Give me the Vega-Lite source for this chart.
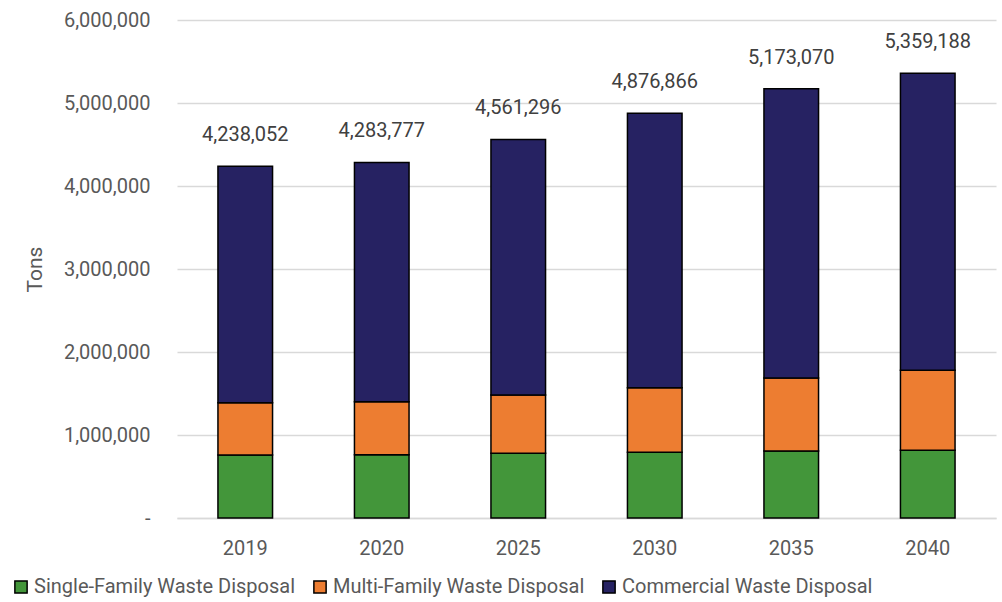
{
  "$schema": "https://vega.github.io/schema/vega-lite/v6.json",
  "autosize": {"type": "none"},
  "width": 819,
  "height": 498,
  "padding": {"left": 177, "top": 20, "right": 6, "bottom": 84},
  "background": "white",
  "config": {
    "view": {"stroke": null},
    "font": "Roboto"
  },
  "data": {
    "values": [
      {"year": "2019", "type": "Single-Family Waste Disposal", "tons": 759000},
      {"year": "2019", "type": "Multi-Family Waste Disposal", "tons": 630000},
      {"year": "2019", "type": "Commercial Waste Disposal", "tons": 2849052},
      {"year": "2020", "type": "Single-Family Waste Disposal", "tons": 763000},
      {"year": "2020", "type": "Multi-Family Waste Disposal", "tons": 638000},
      {"year": "2020", "type": "Commercial Waste Disposal", "tons": 2882777},
      {"year": "2025", "type": "Single-Family Waste Disposal", "tons": 779000},
      {"year": "2025", "type": "Multi-Family Waste Disposal", "tons": 703000},
      {"year": "2025", "type": "Commercial Waste Disposal", "tons": 3079296},
      {"year": "2030", "type": "Single-Family Waste Disposal", "tons": 791000},
      {"year": "2030", "type": "Multi-Family Waste Disposal", "tons": 779000},
      {"year": "2030", "type": "Commercial Waste Disposal", "tons": 3306866},
      {"year": "2035", "type": "Single-Family Waste Disposal", "tons": 807000},
      {"year": "2035", "type": "Multi-Family Waste Disposal", "tons": 880000},
      {"year": "2035", "type": "Commercial Waste Disposal", "tons": 3486070},
      {"year": "2040", "type": "Single-Family Waste Disposal", "tons": 815000},
      {"year": "2040", "type": "Multi-Family Waste Disposal", "tons": 964000},
      {"year": "2040", "type": "Commercial Waste Disposal", "tons": 3580188}
    ]
  },
  "encoding": {
    "x": {
      "field": "year",
      "type": "ordinal",
      "scale": {"paddingInner": 0.6, "paddingOuter": 0.3},
      "axis": {
        "title": null,
        "labelAngle": 0,
        "labelFontSize": 20,
        "labelColor": "#595959",
        "labelPadding": 30,
        "labelBaseline": "middle",
        "ticks": false,
        "domainColor": "#d9d9d9",
        "domainWidth": 1.5,
        "grid": false
      }
    }
  },
  "layer": [
    {
      "mark": {"type": "bar", "stroke": "black", "strokeWidth": 1.5},
      "encoding": {
        "y": {
          "field": "tons",
          "type": "quantitative",
          "stack": "zero",
          "scale": {"domain": [0, 6000000]},
          "axis": {
            "title": "Tons",
            "titleFontSize": 21,
            "titleFontWeight": "normal",
            "titleColor": "#595959",
            "titleX": -142,
            "titleY": 249,
            "titleAngle": 270,
            "titleAlign": "center",
            "titleBaseline": "middle",
            "values": [0, 1000000, 2000000, 3000000, 4000000, 5000000, 6000000],
            "labelExpr": "datum.value == 0 ? '-' : format(datum.value, ',')",
            "labelFontSize": 20,
            "labelColor": "#595959",
            "labelPadding": 27,
            "ticks": false,
            "domain": false,
            "gridColor": "#d9d9d9",
            "gridWidth": 1.5
          }
        },
        "color": {
          "field": "type",
          "type": "nominal",
          "sort": ["Single-Family Waste Disposal", "Multi-Family Waste Disposal", "Commercial Waste Disposal"],
          "scale": {
            "domain": ["Single-Family Waste Disposal", "Multi-Family Waste Disposal", "Commercial Waste Disposal"],
            "range": ["#43963a", "#ed7d31", "#262262"]
          },
          "legend": {
            "title": null,
            "orient": "none",
            "direction": "horizontal",
            "legendX": -166,
            "legendY": 557,
            "symbolType": "square",
            "symbolSize": 150,
            "symbolStrokeColor": "black",
            "symbolStrokeWidth": 1.5,
            "symbolOpacity": 1,
            "labelFontSize": 20,
            "labelColor": "#595959",
            "labelOffset": 3,
            "labelLimit": 400,
            "columnPadding": 14
          }
        },
        "order": {"field": "type", "sort": "descending"}
      }
    },
    {
      "transform": [
        {"aggregate": [{"op": "sum", "field": "tons", "as": "total"}], "groupby": ["year"]}
      ],
      "mark": {"type": "text", "fontSize": 20, "color": "#404040", "baseline": "middle", "dy": -31},
      "encoding": {
        "y": {"field": "total", "type": "quantitative"},
        "text": {"field": "total", "type": "quantitative", "format": ","}
      }
    }
  ]
}
